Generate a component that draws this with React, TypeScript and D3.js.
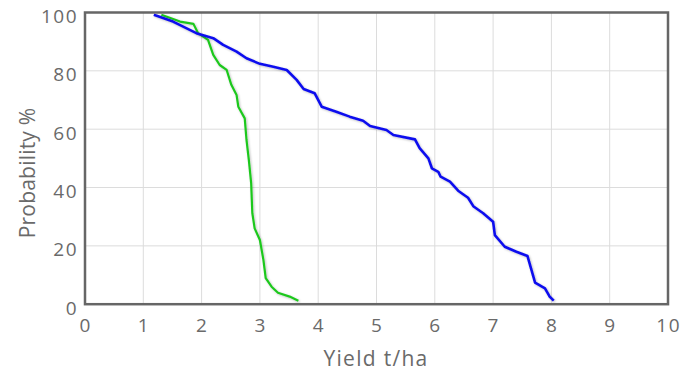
import * as d3 from "d3";

// yield (t/ha) vs exceedance probability (%)
const blueYield = [1.18, 1.51, 1.91, 2.2, 2.37, 2.6, 2.77, 3.0, 3.23, 3.46, 3.63, 3.75, 3.94, 4.06, 4.31, 4.54, 4.77, 4.89, 5.17, 5.29, 5.66, 5.74, 5.89, 5.95, 6.06, 6.1, 6.26, 6.4, 6.57, 6.66, 6.83, 7.0, 7.03, 7.2, 7.4, 7.59, 7.72, 7.89, 7.97, 8.04];
const blueProb = [99.2, 96.9, 92.9, 91.2, 88.9, 86.6, 84.3, 82.4, 81.4, 80.3, 76.9, 73.8, 72.3, 67.7, 66.0, 64.3, 62.9, 61.1, 59.7, 58.0, 56.5, 53.5, 50.0, 46.6, 45.4, 43.7, 42.0, 38.9, 36.5, 33.6, 31.2, 28.3, 23.7, 19.7, 18.0, 16.5, 7.4, 5.4, 2.6, 1.2];

const greenYield = [1.31, 1.63, 1.86, 1.94, 2.11, 2.2, 2.31, 2.43, 2.51, 2.6, 2.63, 2.74, 2.77, 2.81, 2.85, 2.87, 2.91, 3.0, 3.06, 3.1, 3.2, 3.31, 3.51, 3.66];
const greenProb = [99.2, 96.9, 96.1, 92.9, 90.6, 85.5, 82.0, 80.3, 75.2, 71.7, 67.7, 63.7, 56.3, 49.5, 41.5, 31.2, 26.0, 22.0, 15.2, 8.9, 6.0, 3.9, 2.6, 1.2];

const xTicks = [0, 1, 2, 3, 4, 5, 6, 7, 8, 9, 10];
const yTicks = [0, 20, 40, 60, 80, 100];

const W = 692, H = 371;
const x = d3.scaleLinear().domain([0, 10]).range([85, 668]);
const y = d3.scaleLinear().domain([0, 100]).range([304.2, 12.5]);

const line = d3.line<[number, number]>().x(d => x(d[0])).y(d => y(d[1]));

const font = "'Open Sans', sans-serif";
const txt = "#6a6a6a";

export default function App() {
  const blue = blueYield.map((v, i) => [v, blueProb[i]] as [number, number]);
  const green = greenYield.map((v, i) => [v, greenProb[i]] as [number, number]);
  return (
    <svg width={W} height={H} style={{ position: "absolute", left: 0, top: 0 }} fontFamily={font}>
      <defs>
        <filter id="sh" x="-10%" y="-10%" width="120%" height="120%">
          <feDropShadow dx="1" dy="1" stdDeviation="1" floodColor="#000" floodOpacity="0.25" />
        </filter>
      </defs>
      <rect width={W} height={H} fill="#fff" />
      {xTicks.slice(1, -1).map(t => (
        <line key={"gx" + t} x1={x(t)} x2={x(t)} y1={y(100)} y2={y(0)} stroke="#dcdcdc" strokeWidth={1} />
      ))}
      {yTicks.slice(1, -1).map(t => (
        <line key={"gy" + t} x1={x(0)} x2={x(10)} y1={y(t)} y2={y(t)} stroke="#dcdcdc" strokeWidth={1} />
      ))}
      <path d={line(green) || ""} fill="none" stroke="#1ec81e" strokeWidth={2.2} strokeLinejoin="round" filter="url(#sh)" />
      <path d={line(blue) || ""} fill="none" stroke="#1010ee" strokeWidth={2.6} strokeLinejoin="round" filter="url(#sh)" />
      <rect x={x(0)} y={y(100)} width={x(10) - x(0)} height={y(0) - y(100)} fill="none" stroke="#666" strokeWidth={2.5} />
      {yTicks.map(t => (
        <text key={"ty" + t} x={78} y={y(t) + 10.5} textAnchor="end" fontSize={19} letterSpacing={1.5} fill={txt}>{t}</text>
      ))}
      {xTicks.map(t => (
        <text key={"tx" + t} x={x(t) + 0.7} y={332} textAnchor="middle" fontSize={19} letterSpacing={1.5} fill={txt}>{t}</text>
      ))}
      <text x={376} y={366} textAnchor="middle" fontSize={21} letterSpacing={1.3} fill={txt}>Yield t/ha</text>
      <text transform="translate(35,173) rotate(-90)" textAnchor="middle" fontSize={21} letterSpacing={0.2} fill={txt}>Probability %</text>
    </svg>
  );
}
